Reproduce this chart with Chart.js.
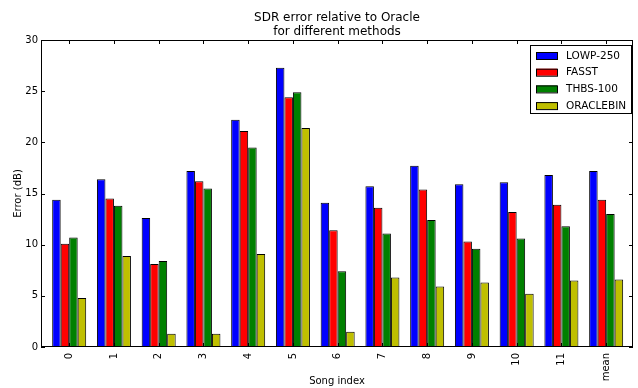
<!DOCTYPE html>
<html>
<head>
<meta charset="utf-8">
<script src="https://cdn.jsdelivr.net/npm/chart.js@4/dist/chart.umd.min.js"></script>
<style>
	html, body { margin: 0; padding: 0; background: #fff; }
	#wrap { width: 638px; height: 388px; }
</style>
</head>
<body>
<div id="wrap"><canvas id="barChart" width="638" height="388"></canvas></div>
<script>
const songs = ['0', '1', '2', '3', '4', '5', '6', '7', '8', '9', '10', '11', 'mean'];
const lowp = [14.4, 16.4, 12.6, 17.2, 22.2, 27.3, 14.1, 15.7, 17.7, 15.9, 16.1, 16.8, 17.2];
const fasst = [10.1, 14.5, 8.1, 16.2, 21.1, 24.4, 11.4, 13.6, 15.4, 10.3, 13.2, 13.9, 14.4];
const thbs = [10.7, 13.8, 8.4, 15.5, 19.5, 24.9, 7.4, 11.1, 12.4, 9.6, 10.6, 11.8, 13.0];
const oracle = [4.8, 8.9, 1.3, 1.3, 9.1, 21.4, 1.5, 6.8, 5.9, 6.3, 5.2, 6.5, 6.6];
const yTicks = [0, 5, 10, 15, 20, 25, 30];
const titleLines = ['SDR error relative to Oracle', 'for different methods'];

const font = 'DejaVu Sans';

// matplotlib style: frame, inward ticks, title and boxed legend
const framePlugin = {
	id: 'frame',
	afterDatasetsDraw(chart) {
		const ctx = chart.ctx;
		const a = chart.chartArea;
		const xs = chart.scales.x;
		const ys = chart.scales.y;
		ctx.save();
		ctx.strokeStyle = '#000';
		ctx.lineWidth = 1;
		ctx.beginPath();
		for (let i = 0; i < xs.ticks.length; i++) {
			const px = Math.round(xs.getPixelForTick(i)) + 0.5;
			ctx.moveTo(px, a.bottom);
			ctx.lineTo(px, a.bottom - 4);
			ctx.moveTo(px, a.top);
			ctx.lineTo(px, a.top + 4);
		}
		yTicks.forEach(v => {
			const py = Math.round(ys.getPixelForValue(v)) + 0.5;
			ctx.moveTo(a.left, py);
			ctx.lineTo(a.left + 4, py);
			ctx.moveTo(a.right, py);
			ctx.lineTo(a.right - 4, py);
		});
		ctx.stroke();
		ctx.strokeRect(Math.round(a.left) + 0.5, Math.round(a.top) + 0.5,
			Math.round(a.right - a.left) - 1, Math.round(a.bottom - a.top) - 1);

		// title
		ctx.fillStyle = '#000';
		ctx.font = '12px "' + font + '"';
		ctx.textAlign = 'center';
		ctx.textBaseline = 'middle';
		const cx = (a.left + a.right) / 2;
		ctx.fillText(titleLines[0], cx, 18);
		ctx.fillText(titleLines[1], cx, 32);

		// legend
		const sets = chart.data.datasets;
		const lx = a.right - 103, ly = a.top + 5;
		ctx.fillStyle = '#fff';
		ctx.fillRect(lx, ly, 101, 68);
		ctx.strokeRect(lx + 0.5, ly + 0.5, 101, 68);
		ctx.font = '10.5px "' + font + '"';
		ctx.textAlign = 'left';
		sets.forEach((ds, i) => {
			const ey = ly + 10 + i * 16.7;
			ctx.fillStyle = ds.backgroundColor;
			ctx.fillRect(lx + 6, ey - 3, 21, 7);
			ctx.strokeRect(lx + 6.5, ey - 2.5, 21, 7);
			ctx.fillStyle = '#000';
			ctx.fillText(ds.label, lx + 36, ey + 1);
		});
		ctx.restore();
	}
};

const toPoints = arr => arr.map((v, i) => ({ x: i, y: v }));

const dataBar = {
	datasets: [
		{ label: 'LOWP-250', data: toPoints(lowp), backgroundColor: '#0000ff' },
		{ label: 'FASST', data: toPoints(fasst), backgroundColor: '#ff0000' },
		{ label: 'THBS-100', data: toPoints(thbs), backgroundColor: '#008000' },
		{ label: 'ORACLEBIN', data: toPoints(oracle), backgroundColor: '#bfbf00' }
	].map(d => Object.assign(d, {
		borderColor: '#000',
		borderWidth: 1,
		borderSkipped: false,
		barPercentage: 1,
		categoryPercentage: 0.76
	}))
};

const optionsBar = {
	responsive: false,
	animation: false,
	layout: { padding: { top: 40, right: 5, left: 0, bottom: 0 } },
	plugins: {
		legend: { display: false },
		title: { display: false },
		tooltip: { enabled: false }
	},
	scales: {
		x: {
			type: 'linear',
			offset: false,
			min: -0.63,
			max: 12.6,
			grid: { display: false, drawTicks: false },
			border: { display: false },
			afterBuildTicks(s) { s.ticks = songs.map((_, i) => ({ value: i })); },
			ticks: {
				color: '#000',
				font: { family: font, size: 10 },
				minRotation: 90,
				maxRotation: 90,
				autoSkip: false,
				padding: 6,
				callback: v => songs[v]
			},
			title: {
				display: true,
				text: 'Song index',
				color: '#000',
				font: { family: font, size: 10 },
				padding: { top: 0, bottom: 1 }
			},
			afterFit(s) { s.height = 41; }
		},
		y: {
			min: 0,
			max: 30,
			grid: { display: false, drawTicks: false },
			border: { display: false },
			afterBuildTicks(s) { s.ticks = yTicks.map(v => ({ value: v })); },
			ticks: {
				color: '#000',
				font: { family: font, size: 10 },
				padding: 3
			},
			title: {
				display: true,
				text: 'Error (dB)',
				color: '#000',
				font: { family: font, size: 10 },
				padding: { top: 12, bottom: 0 }
			},
			afterFit(s) { s.width = 41; }
		}
	}
};

const barChart = new Chart(document.getElementById('barChart'), {
	type: 'bar',
	data: dataBar,
	options: optionsBar,
	plugins: [framePlugin]
});
</script>
</body>
</html>
